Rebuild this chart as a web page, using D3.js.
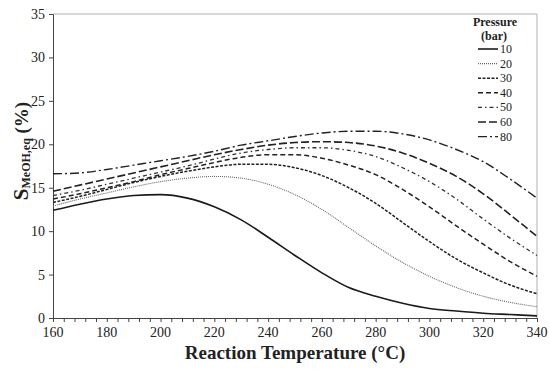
<!DOCTYPE html>
<html>
<head>
<meta charset="utf-8">
<script src="https://cdn.jsdelivr.net/npm/d3@7"></script>
<style>
  body { margin: 0; background: #fff; }
  svg text { font-family: "Liberation Serif", "Times New Roman", serif; fill: #222; }
</style>
</head>
<body>
<div id="chart"></div>
<script>
/*
------------------------------
DATA, one value per 10 °C
------------------------------
*/
const temps = [160, 170, 180, 190, 200, 210, 220, 230, 240, 250, 260, 270, 280, 290, 300, 310, 320, 330, 340];
const pressures = ["10", "20", "30", "40", "50", "60", "80"];

const s10 = [12.4, 13.1, 13.7, 14.1, 14.2, 13.8, 12.8, 11.3, 9.3, 7.2, 5.2, 3.5, 2.5, 1.7, 1.1, 0.8, 0.55, 0.4, 0.25];
const s20 = [12.9, 13.7, 14.4, 15.1, 15.7, 16.1, 16.3, 16.1, 15.4, 14.2, 12.5, 10.4, 8.3, 6.4, 4.8, 3.5, 2.5, 1.8, 1.3];
const s30 = [13.3, 14.0, 14.8, 15.6, 16.3, 16.9, 17.4, 17.7, 17.7, 17.3, 16.4, 15.0, 13.2, 11.0, 8.8, 6.8, 5.2, 3.8, 2.8];
const s40 = [13.7, 14.3, 15.0, 15.7, 16.5, 17.2, 17.9, 18.5, 18.8, 18.8, 18.4, 17.6, 16.5, 14.8, 12.8, 10.6, 8.5, 6.5, 4.8];
const s50 = [14.1, 14.7, 15.4, 16.1, 16.8, 17.5, 18.3, 19.0, 19.4, 19.6, 19.6, 19.3, 18.6, 17.3, 15.7, 13.7, 11.4, 9.2, 7.2];
const s60 = [14.6, 15.3, 16.0, 16.7, 17.4, 18.1, 18.8, 19.4, 19.9, 20.2, 20.3, 20.2, 19.8, 19.0, 17.8, 16.3, 14.3, 11.9, 9.4];
const s80 = [16.6, 16.7, 17.1, 17.6, 18.1, 18.6, 19.2, 19.9, 20.4, 20.9, 21.3, 21.5, 21.5, 21.2, 20.5, 19.4, 18.0, 16.0, 13.8];

const yTicks = [0, 5, 10, 15, 20, 25, 30, 35];
const xLabels = [160, 180, 200, 220, 240, 260, 280, 300, 320, 340];

/*
------------------------------
METHOD: canvas size and scales
------------------------------
*/
let margin = { top: 14, right: 13, bottom: 54, left: 53 };
let width = 550 - margin.left - margin.right;
let height = 372 - margin.top - margin.bottom;
const serif = '"Liberation Serif", "Times New Roman", serif';

const series = [s10, s20, s30, s40, s50, s60, s80];
// line looks for each pressure: dash pattern, width, colour
const looks = [
    { dash: null, w: 1.6, c: "#1a1a1a" },
    { dash: "1,1", w: 1.1, c: "#666" },
    { dash: "3,1.5", w: 1.5, c: "#222" },
    { dash: "5,3", w: 1.5, c: "#222" },
    { dash: "4,3,1.5,3", w: 1.3, c: "#333" },
    { dash: "8,3", w: 1.6, c: "#222" },
    { dash: "9,3,2,3", w: 1.4, c: "#222" }
];

let svg = d3.select("#chart")
    .append("svg")
    .attr("width", 550)
    .attr("height", 372)
    .attr("font-family", serif);

let g = svg.append("g")
    .attr("transform", "translate(" + margin.left + "," + margin.top + ")");

const x = d3.scaleLinear().domain([160, 340]).range([0, width]);
const y = d3.scaleLinear().domain([0, 35]).range([height, 0]);

// light frame round the plot area (top + right)
g.append("path")
    .attr("d", "M0,0H" + width + "V" + height)
    .attr("fill", "none")
    .attr("stroke", "#b0b0b0")
    .attr("stroke-width", 1);

// y axis
let yAxis = g.append("g")
    .call(d3.axisLeft(y).tickValues(yTicks).tickSize(4).tickPadding(4));
yAxis.attr("font-family", serif).attr("font-size", 14);
yAxis.select(".domain").attr("stroke", "#444");
yAxis.selectAll(".tick line").attr("stroke", "#444");

// x axis: small ticks every 4 °C, labels every 20
let xAxis = g.append("g")
    .attr("transform", "translate(0," + height + ")")
    .call(d3.axisBottom(x).tickValues(d3.range(160, 341, 4)).tickSize(4).tickFormat(""));
xAxis.select(".domain").attr("stroke", "#444");
xAxis.selectAll(".tick line").attr("stroke", "#444");

g.append("g")
    .selectAll("text")
    .data(xLabels)
    .join("text")
    .attr("x", d => x(d))
    .attr("y", height + 19)
    .attr("text-anchor", "middle")
    .attr("font-size", "14px")
    .text(d => d);

// the curves
const line = d3.line()
    .x((d, i) => x(temps[i]))
    .y(d => y(d))
    .curve(d3.curveMonotoneX);

g.append("g")
    .selectAll("path")
    .data(series)
    .join("path")
    .attr("d", d => line(d))
    .attr("fill", "none")
    .attr("stroke", (d, i) => looks[i].c)
    .attr("stroke-width", (d, i) => looks[i].w)
    .attr("stroke-dasharray", (d, i) => looks[i].dash);

// axis titles
svg.append("text")
    .attr("x", 295)
    .attr("y", 359)
    .attr("text-anchor", "middle")
    .attr("font-size", "19px")
    .attr("font-weight", "bold")
    .text("Reaction Temperature (°C)");

let yt = svg.append("text")
    .attr("transform", "translate(28,151) rotate(-90)")
    .attr("text-anchor", "middle")
    .attr("font-weight", "bold");
yt.append("tspan").attr("font-size", "21px").text("S");
yt.append("tspan").attr("font-size", "12px").attr("dy", 1.5).text("MeOH,eq");
yt.append("tspan").attr("font-size", "19px").attr("dy", -1.5).text(" (%)");

// legend
let leg = svg.append("g");
leg.append("text")
    .attr("x", 495).attr("y", 26)
    .attr("text-anchor", "middle")
    .attr("font-size", "12px")
    .attr("font-weight", "bold")
    .text("Pressure");
leg.append("text")
    .attr("x", 494).attr("y", 40)
    .attr("text-anchor", "middle")
    .attr("font-size", "12px")
    .attr("font-weight", "bold")
    .text("(bar)");

let rows = leg.selectAll("g.row")
    .data(pressures)
    .join("g")
    .attr("class", "row")
    .attr("transform", (d, i) => "translate(478," + (49 + i * 14.6) + ")");
rows.append("line")
    .attr("x1", 0).attr("x2", 20)
    .attr("stroke", (d, i) => looks[i].c)
    .attr("stroke-width", (d, i) => looks[i].w)
    .attr("stroke-dasharray", (d, i) => looks[i].dash);
rows.append("text")
    .attr("x", 22).attr("y", 4)
    .attr("font-size", "12px")
    .text(d => d);
</script>
</body>
</html>
